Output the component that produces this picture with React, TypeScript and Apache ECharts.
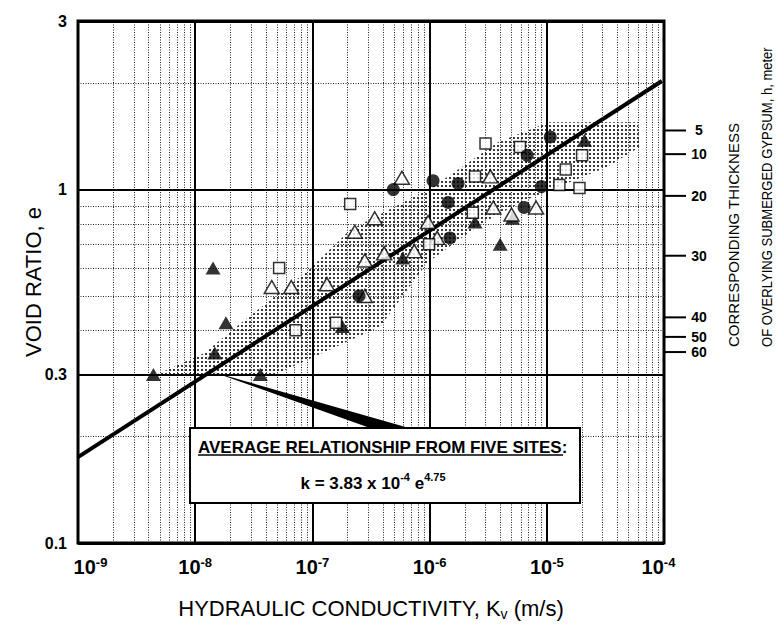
import React, { useEffect, useRef } from "react";
import * as echarts from "echarts";

// ---- data (hydraulic conductivity k [m/s], void ratio e) ----
const filledTriangles: [number, number][] = [
  [4.4e-9, 0.3], [1.42e-8, 0.6], [1.83e-8, 0.42], [1.47e-8, 0.345], [3.6e-8, 0.3],
  [1.8e-7, 0.41], [5.9e-7, 0.64], [2.44e-6, 0.81], [5.1e-6, 0.83], [4.0e-6, 0.7], [2.1e-5, 1.38],
];
const openTriangles: [number, number][] = [
  [5.8e-7, 1.08], [3.3e-6, 1.09], [3.4e-7, 0.83], [2.3e-7, 0.76], [4.5e-8, 0.53], [6.6e-8, 0.53],
  [1.33e-7, 0.54], [2.8e-7, 0.63], [4.1e-7, 0.66], [9.7e-7, 0.81], [1.16e-6, 0.73], [8.1e-6, 0.89],
  [5.0e-6, 0.85], [3.5e-6, 0.89], [2.8e-7, 0.5], [7.4e-7, 0.67],
];
const openSquares: [number, number][] = [
  [3.0e-6, 1.35], [5.9e-6, 1.32], [2.0e-5, 1.25], [1.45e-5, 1.14], [1.28e-5, 1.03], [1.9e-5, 1.01],
  [2.44e-6, 1.09], [2.1e-7, 0.91], [5.2e-8, 0.6], [1.59e-7, 0.42], [7.2e-8, 0.4], [9.9e-7, 0.7], [2.34e-6, 0.86],
];
const filledCircles: [number, number][] = [
  [1.07e-5, 1.41], [6.8e-6, 1.25], [1.07e-6, 1.06], [1.75e-6, 1.04], [4.9e-7, 1.0], [9.0e-6, 1.02],
  [1.44e-6, 0.92], [1.49e-6, 0.73], [6.4e-6, 0.89], [2.5e-7, 0.5],
];
const fitLine: [number, number][] = [[1e-9, 0.175], [9.6e-5, 2.03]];
const bandUpper: [number, number][] = [
  [4.5e-9, 0.298], [1.2e-8, 0.345], [2.66e-8, 0.428], [9.2e-8, 0.59], [2.1e-7, 0.77],
  [1.03e-6, 1.01], [3.8e-6, 1.36], [1.04e-5, 1.55], [6.0e-5, 1.55],
];
const bandLower: [number, number][] = [
  [6.2e-5, 1.32], [3.3e-5, 1.16], [6.4e-6, 0.93], [2.75e-6, 0.8], [9.5e-7, 0.62],
  [3.8e-7, 0.41], [4.35e-8, 0.295],
];
// axis / grid values
const X_MIN = 1e-9;
const X_MAX = 1e-4;
const Y_MIN = 0.1;
const Y_MAX = 3;
const decades = [-9, -8, -7, -6, -5];
const minorMultipliers = [2, 3, 4, 5, 6, 7, 8, 9];
const yTickLabels = ["0.1", "0.3", "1", "3"];
const yTickValues = [0.1, 0.3, 1, 3];
const majorY = [0.3, 1];
const minorY = [2, 0.9, 0.8, 0.7, 0.6, 0.5, 0.4, 0.2];
const thicknessLabels = ["5", "10", "20", "30", "40", "50", "60"];
const thicknessE = [1.47, 1.26, 0.96, 0.65, 0.435, 0.383, 0.347];

const FONT = '"Liberation Sans", Arial, Helvetica, sans-serif';

export default function App() {
  const ref = useRef<HTMLDivElement>(null);
  useEffect(() => {
    const chart = echarts.init(ref.current!, null, { renderer: "svg" });

    const tile = document.createElement("canvas");
    tile.width = 4;
    tile.height = 4;
    const ctx = tile.getContext("2d")!;
    ctx.fillStyle = "#3a3a3a";
    ctx.fillRect(1, 1, 2, 2);
    const dotPattern: any = { image: tile, repeat: "repeat", imageWidth: 4, imageHeight: 4 };

    const majorStyle = { color: "#000", width: 2, type: "solid" as const };
    const minorStyle = { color: "#222", width: 1, type: [1, 1.5] as any };
    const borderStyle = { color: "#000", width: 3, type: "solid" as const };

    const vLine = (x: number, style: any) => [
      { coord: [x, Y_MIN], lineStyle: style },
      { coord: [x, Y_MAX] },
    ];
    const hLine = (y: number, style: any, label?: string) => [
      {
        coord: [X_MIN, y],
        lineStyle: style,
        label: label
          ? {
              show: true,
              position: "start",
              distance: 11,
              formatter: label,
              fontSize: 16,
              fontWeight: "bold",
              color: "#000",
              fontFamily: FONT,
            }
          : { show: false },
      },
      { coord: [X_MAX, y] },
    ];

    const gridLines: any[] = [];
    decades.forEach((d) => {
      if (d > -9) gridLines.push(vLine(Math.pow(10, d), majorStyle));
      minorMultipliers.forEach((m) => gridLines.push(vLine(m * Math.pow(10, d), minorStyle)));
    });
    minorY.forEach((v) => gridLines.push(hLine(v, minorStyle)));
    yTickValues.forEach((v, i) =>
      gridLines.push(hLine(v, majorY.indexOf(v) >= 0 ? majorStyle : borderStyle, yTickLabels[i]))
    );

    const option: any = {
      animation: false,
      backgroundColor: "#fff",
      grid: {
        left: 78,
        top: 21,
        right: 119,
        bottom: 83,
        show: true,
        borderColor: "#000",
        borderWidth: 3,
        backgroundColor: "transparent",
      },
      xAxis: {
        type: "log",
        logBase: 10,
        min: X_MIN,
        max: X_MAX,
        axisLine: { show: false },
        axisTick: { show: false },
        splitLine: { show: false },
        axisLabel: {
          margin: 13,
          showMinLabel: true,
          showMaxLabel: true,
          formatter: (v: number, idx: number) => {
            const ex = Math.round(Math.log10(v));
            if (idx === 0) return `{b0|10}{s|${ex}}`;
            if (ex === -4) return `{b|10}{s4|${ex}}`;
            return `{b|10}{s|${ex}}`;
          },
          rich: {
            b: { fontSize: 20, fontFamily: FONT, fontWeight: "bold", color: "#000", lineHeight: 22 },
            b0: { fontSize: 20, fontFamily: FONT, fontWeight: "bold", color: "#000", lineHeight: 22, padding: [0, 0, 0, 25] },
            s: { fontSize: 13, fontFamily: FONT, fontWeight: "bold", color: "#000", verticalAlign: "top", lineHeight: 13 },
            s4: { fontSize: 13, fontFamily: FONT, fontWeight: "bold", color: "#000", verticalAlign: "top", lineHeight: 13, padding: [0, 11, 0, 0] },
          },
        },
        name: "{t|HYDRAULIC CONDUCTIVITY, K}{sub|v}{t| (m/s)}",
        nameLocation: "middle",
        nameGap: 52,
        nameTextStyle: {
          rich: {
            t: { fontSize: 22, fontFamily: FONT, color: "#000", lineHeight: 26 },
            sub: { fontSize: 14, fontFamily: FONT, color: "#000", verticalAlign: "bottom", lineHeight: 14 },
          },
        },
      },
      yAxis: {
        type: "log",
        logBase: 10,
        min: Y_MIN,
        max: Y_MAX,
        axisLine: { show: false },
        axisTick: { show: false },
        splitLine: { show: false },
        axisLabel: { show: false },
        name: "VOID RATIO, e",
        nameLocation: "middle",
        nameGap: 34,
        nameTextStyle: { fontSize: 22, fontFamily: FONT, color: "#000" },
      },
      series: [
        {
          type: "custom",
          name: "band",
          silent: true,
          z: 1,
          data: [[1e-6, 1]],
          renderItem: (_p: any, api: any) => {
            const pts = [...bandUpper, ...bandLower].map((p) => api.coord(p));
            return { type: "polygon", shape: { points: pts }, style: { fill: dotPattern, stroke: null } };
          },
        },
        {
          type: "line",
          name: "grid",
          data: [],
          silent: true,
          z: 2,
          markLine: {
            silent: true,
            symbol: ["none", "none"],
            label: { show: false },
            animation: false,
            data: gridLines,
          },
        },
        {
          type: "line",
          name: "fit",
          data: fitLine,
          symbol: "none",
          silent: true,
          z: 3,
          lineStyle: { color: "#000", width: 4 },
        },
        {
          type: "scatter",
          name: "filled triangles",
          data: filledTriangles,
          symbol: "triangle",
          symbolSize: [15, 13],
          itemStyle: { color: "#000" },
          z: 5,
        },
        {
          type: "scatter",
          name: "open triangles",
          data: openTriangles,
          symbol: "triangle",
          symbolSize: [15, 13],
          itemStyle: { color: "#fff", borderColor: "#000", borderWidth: 1.5 },
          z: 5,
        },
        {
          type: "scatter",
          name: "open squares",
          data: openSquares,
          symbol: "rect",
          symbolSize: 11,
          itemStyle: { color: "#fff", borderColor: "#000", borderWidth: 1.5 },
          z: 5,
        },
        {
          type: "scatter",
          name: "filled circles",
          data: filledCircles,
          symbol: "circle",
          symbolSize: 13,
          itemStyle: { color: "#000" },
          z: 5,
        },
        {
          type: "custom",
          name: "thickness axis",
          silent: true,
          clip: false,
          z: 6,
          data: thicknessE.map((e, i) => [X_MAX, e, i]),
          renderItem: (_p: any, api: any) => {
            const pt = api.coord([api.value(0), api.value(1)]);
            const i = api.value(2);
            return {
              type: "group",
              children: [
                { type: "line", shape: { x1: pt[0], y1: pt[1], x2: pt[0] + 22, y2: pt[1] }, style: { stroke: "#000", lineWidth: 2 } },
                {
                  type: "text",
                  x: pt[0] + 35,
                  y: pt[1],
                  style: {
                    text: thicknessLabels[i],
                    font: `bold 14px ${FONT}`,
                    fill: "#000",
                    align: "center",
                    verticalAlign: "middle",
                  },
                },
              ],
            };
          },
        },
      ],
      graphic: [
        { type: "polygon", z: 100, shape: { points: [[213, 372], [409, 428], [370, 428]] }, style: { fill: "#000" } },
        { type: "rect", z: 101, shape: { x: 190, y: 428, width: 390, height: 75 }, style: { fill: "#fff", stroke: "#000", lineWidth: 2 } },
        {
          type: "text",
          z: 102,
          x: 198,
          y: 447,
          style: {
            text: "AVERAGE RELATIONSHIP FROM FIVE SITES:",
            font: `bold 17px ${FONT}`,
            fill: "#000",
            align: "left",
            verticalAlign: "middle",
          },
        },
        { type: "line", z: 102, shape: { x1: 198, y1: 455, x2: 563, y2: 455 }, style: { stroke: "#000", lineWidth: 1.5 } },
        {
          type: "text",
          z: 102,
          x: 373,
          y: 483,
          style: {
            text: "{t|k = 3.83 x 10}{s|-4}{t| e}{s|4.75}",
            rich: {
              t: { fontSize: 17, fontWeight: "bold", fontFamily: FONT, fill: "#000", lineHeight: 24 },
              s: { fontSize: 11, fontWeight: "bold", fontFamily: FONT, fill: "#000", verticalAlign: "top", lineHeight: 11 },
            },
            align: "center",
            verticalAlign: "middle",
          },
        },
        {
          type: "text",
          z: 102,
          x: 733,
          y: 347,
          rotation: Math.PI / 2,
          style: { text: "CORRESPONDING THICKNESS", font: `15px ${FONT}`, fill: "#000", align: "left", verticalAlign: "middle" },
        },
        {
          type: "text",
          z: 102,
          x: 767,
          y: 347,
          rotation: Math.PI / 2,
          scaleX: 0.87,
          style: { text: "OF OVERLYING SUBMERGED GYPSUM, h, meter", font: `15px ${FONT}`, fill: "#000", align: "left", verticalAlign: "middle" },
        },
      ],
    };
    chart.setOption(option);
    return () => chart.dispose();
  }, []);
  return (
    <div
      ref={ref}
      style={{ position: "fixed", left: 0, top: 0, width: 783, height: 626, background: "#fff" }}
    />
  );
}
